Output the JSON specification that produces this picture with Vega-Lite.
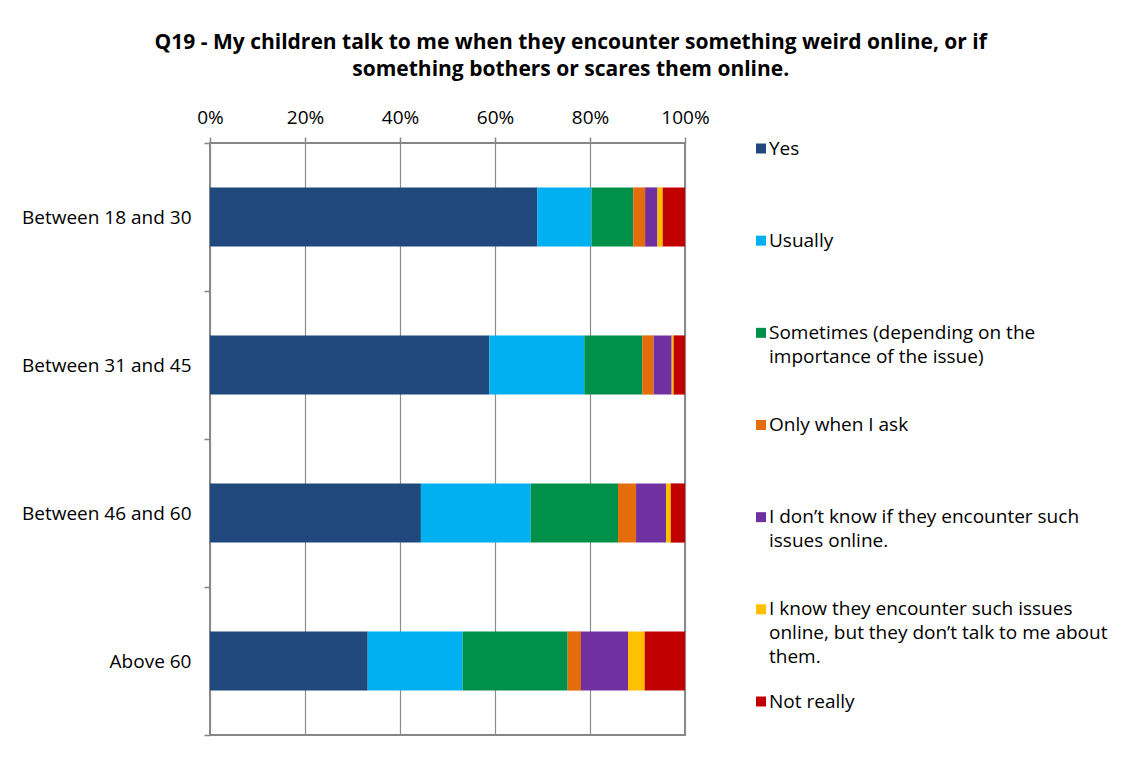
{
  "$schema": "https://vega.github.io/schema/vega-lite/v6.json",
  "background": "white",
  "padding": {"left": 20, "top": 32, "right": 5, "bottom": 5},
  "title": {
    "text": [
      "Q19 - My children talk to me when they encounter something weird online, or if",
      "something bothers or scares them online."
    ],
    "font": "Open Sans",
    "fontSize": 21,
    "fontWeight": "bold",
    "lineHeight": 27,
    "color": "#000000",
    "anchor": "middle",
    "frame": "bounds",
    "offset": 27
  },
  "datasets": {
    "responses": [
      {"age": "Between 18 and 30", "response": "Yes", "share": 68.9},
      {"age": "Between 18 and 30", "response": "Usually", "share": 11.4},
      {"age": "Between 18 and 30", "response": "Sometimes (depending on the importance of the issue)", "share": 8.8},
      {"age": "Between 18 and 30", "response": "Only when I ask", "share": 2.5},
      {"age": "Between 18 and 30", "response": "I don’t know if they encounter such issues online.", "share": 2.6},
      {"age": "Between 18 and 30", "response": "I know they encounter such issues online, but they don’t talk to me about them.", "share": 1.1},
      {"age": "Between 18 and 30", "response": "Not really", "share": 4.7},
      {"age": "Between 31 and 45", "response": "Yes", "share": 58.8},
      {"age": "Between 31 and 45", "response": "Usually", "share": 20.0},
      {"age": "Between 31 and 45", "response": "Sometimes (depending on the importance of the issue)", "share": 12.2},
      {"age": "Between 31 and 45", "response": "Only when I ask", "share": 2.4},
      {"age": "Between 31 and 45", "response": "I don’t know if they encounter such issues online.", "share": 3.8},
      {"age": "Between 31 and 45", "response": "I know they encounter such issues online, but they don’t talk to me about them.", "share": 0.4},
      {"age": "Between 31 and 45", "response": "Not really", "share": 2.4},
      {"age": "Between 46 and 60", "response": "Yes", "share": 44.4},
      {"age": "Between 46 and 60", "response": "Usually", "share": 23.1},
      {"age": "Between 46 and 60", "response": "Sometimes (depending on the importance of the issue)", "share": 18.4},
      {"age": "Between 46 and 60", "response": "Only when I ask", "share": 3.8},
      {"age": "Between 46 and 60", "response": "I don’t know if they encounter such issues online.", "share": 6.3},
      {"age": "Between 46 and 60", "response": "I know they encounter such issues online, but they don’t talk to me about them.", "share": 1.0},
      {"age": "Between 46 and 60", "response": "Not really", "share": 3.0},
      {"age": "Above 60", "response": "Yes", "share": 33.2},
      {"age": "Above 60", "response": "Usually", "share": 20.0},
      {"age": "Above 60", "response": "Sometimes (depending on the importance of the issue)", "share": 22.1},
      {"age": "Above 60", "response": "Only when I ask", "share": 2.8},
      {"age": "Above 60", "response": "I don’t know if they encounter such issues online.", "share": 9.9},
      {"age": "Above 60", "response": "I know they encounter such issues online, but they don’t talk to me about them.", "share": 3.5},
      {"age": "Above 60", "response": "Not really", "share": 8.5}
    ],
    "legendItems": [
      {"response": "Yes", "label": "Yes"},
      {"response": "Usually", "label": "Usually"},
      {"response": "Sometimes (depending on the importance of the issue)", "label": "Sometimes (depending on the\nimportance of the issue)"},
      {"response": "Only when I ask", "label": "Only when I ask"},
      {"response": "I don’t know if they encounter such issues online.", "label": "I don’t know if they encounter such\nissues online."},
      {"response": "I know they encounter such issues online, but they don’t talk to me about them.", "label": "I know they encounter such issues\nonline, but they don’t talk to me about\nthem."},
      {"response": "Not really", "label": "Not really"}
    ]
  },
  "spacing": 76,
  "bounds": "flush",
  "hconcat": [
    {
      "width": 475,
      "height": 592,
      "data": {"name": "responses"},
      "transform": [
        {"calculate": "indexof(['Yes', 'Usually', 'Sometimes (depending on the importance of the issue)', 'Only when I ask', 'I don’t know if they encounter such issues online.', 'I know they encounter such issues online, but they don’t talk to me about them.', 'Not really'], datum.response)", "as": "stackOrder"}
      ],
      "mark": {"type": "bar", "height": {"band": 0.4}},
      "encoding": {
        "y": {
          "field": "age",
          "type": "nominal",
          "sort": ["Between 18 and 30", "Between 31 and 45", "Between 46 and 60", "Above 60"],
          "scale": {"paddingInner": 0, "paddingOuter": 0},
          "axis": {
            "title": null,
            "domain": false,
            "ticks": true,
            "tickBand": "extent",
            "tickSize": 6,
            "tickColor": "#868686",
            "tickWidth": 1.5,
            "labelPadding": 13,
            "labelFont": "Open Sans",
            "labelFontSize": 19,
            "labelColor": "#000000"
          }
        },
        "x": {
          "field": "share",
          "type": "quantitative",
          "stack": "zero",
          "scale": {"domain": [0, 100], "nice": false},
          "axis": {
            "orient": "top",
            "title": null,
            "values": [0, 20, 40, 60, 80, 100],
            "labelExpr": "datum.value + '%'",
            "domain": false,
            "grid": true,
            "gridColor": "#8c8c8c",
            "gridWidth": 1.2,
            "tickSize": 6,
            "tickColor": "#868686",
            "tickWidth": 1.5,
            "labelPadding": 10,
            "labelFont": "Open Sans",
            "labelFontSize": 19,
            "labelColor": "#000000",
            "labelFlush": false
          }
        },
        "color": {
          "field": "response",
          "type": "nominal",
          "scale": {
            "domain": ["Yes", "Usually", "Sometimes (depending on the importance of the issue)", "Only when I ask", "I don’t know if they encounter such issues online.", "I know they encounter such issues online, but they don’t talk to me about them.", "Not really"],
            "range": ["#1F497D", "#00B0F0", "#00904A", "#E46C0A", "#7030A0", "#FFC000", "#C00000"]
          },
          "legend": null
        },
        "order": {"field": "stackOrder", "type": "quantitative"}
      }
    },
    {
      "width": 360,
      "height": 592,
      "view": {"stroke": null},
      "data": {"name": "legendItems"},
      "encoding": {
        "y": {
          "field": "response",
          "type": "nominal",
          "sort": ["Yes", "Usually", "Sometimes (depending on the importance of the issue)", "Only when I ask", "I don’t know if they encounter such issues online.", "I know they encounter such issues online, but they don’t talk to me about them.", "Not really"],
          "scale": {"type": "point", "padding": 0, "range": [5.5, 558.5]},
          "axis": null
        },
        "x": {"datum": 0, "type": "quantitative", "scale": {"domain": [0, 1]}, "axis": null}
      },
      "layer": [
        {
          "mark": {"type": "square", "size": 100, "filled": true, "opacity": 1},
          "encoding": {
            "color": {
              "field": "response",
              "type": "nominal",
              "scale": {
                "domain": ["Yes", "Usually", "Sometimes (depending on the importance of the issue)", "Only when I ask", "I don’t know if they encounter such issues online.", "I know they encounter such issues online, but they don’t talk to me about them.", "Not really"],
                "range": ["#1F497D", "#00B0F0", "#00904A", "#E46C0A", "#7030A0", "#FFC000", "#C00000"]
              },
              "legend": null
            }
          }
        },
        {
          "mark": {
            "type": "text",
            "align": "left",
            "baseline": "line-top",
            "lineBreak": "\n",
            "lineHeight": 24,
            "dx": 8,
            "dy": -12,
            "font": "Open Sans",
            "fontSize": 19,
            "color": "#000000"
          },
          "encoding": {"text": {"field": "label", "type": "nominal"}}
        }
      ]
    }
  ],
  "config": {
    "view": {"stroke": "#868686", "strokeWidth": 2},
    "axis": {"labelFont": "Open Sans"}
  }
}
